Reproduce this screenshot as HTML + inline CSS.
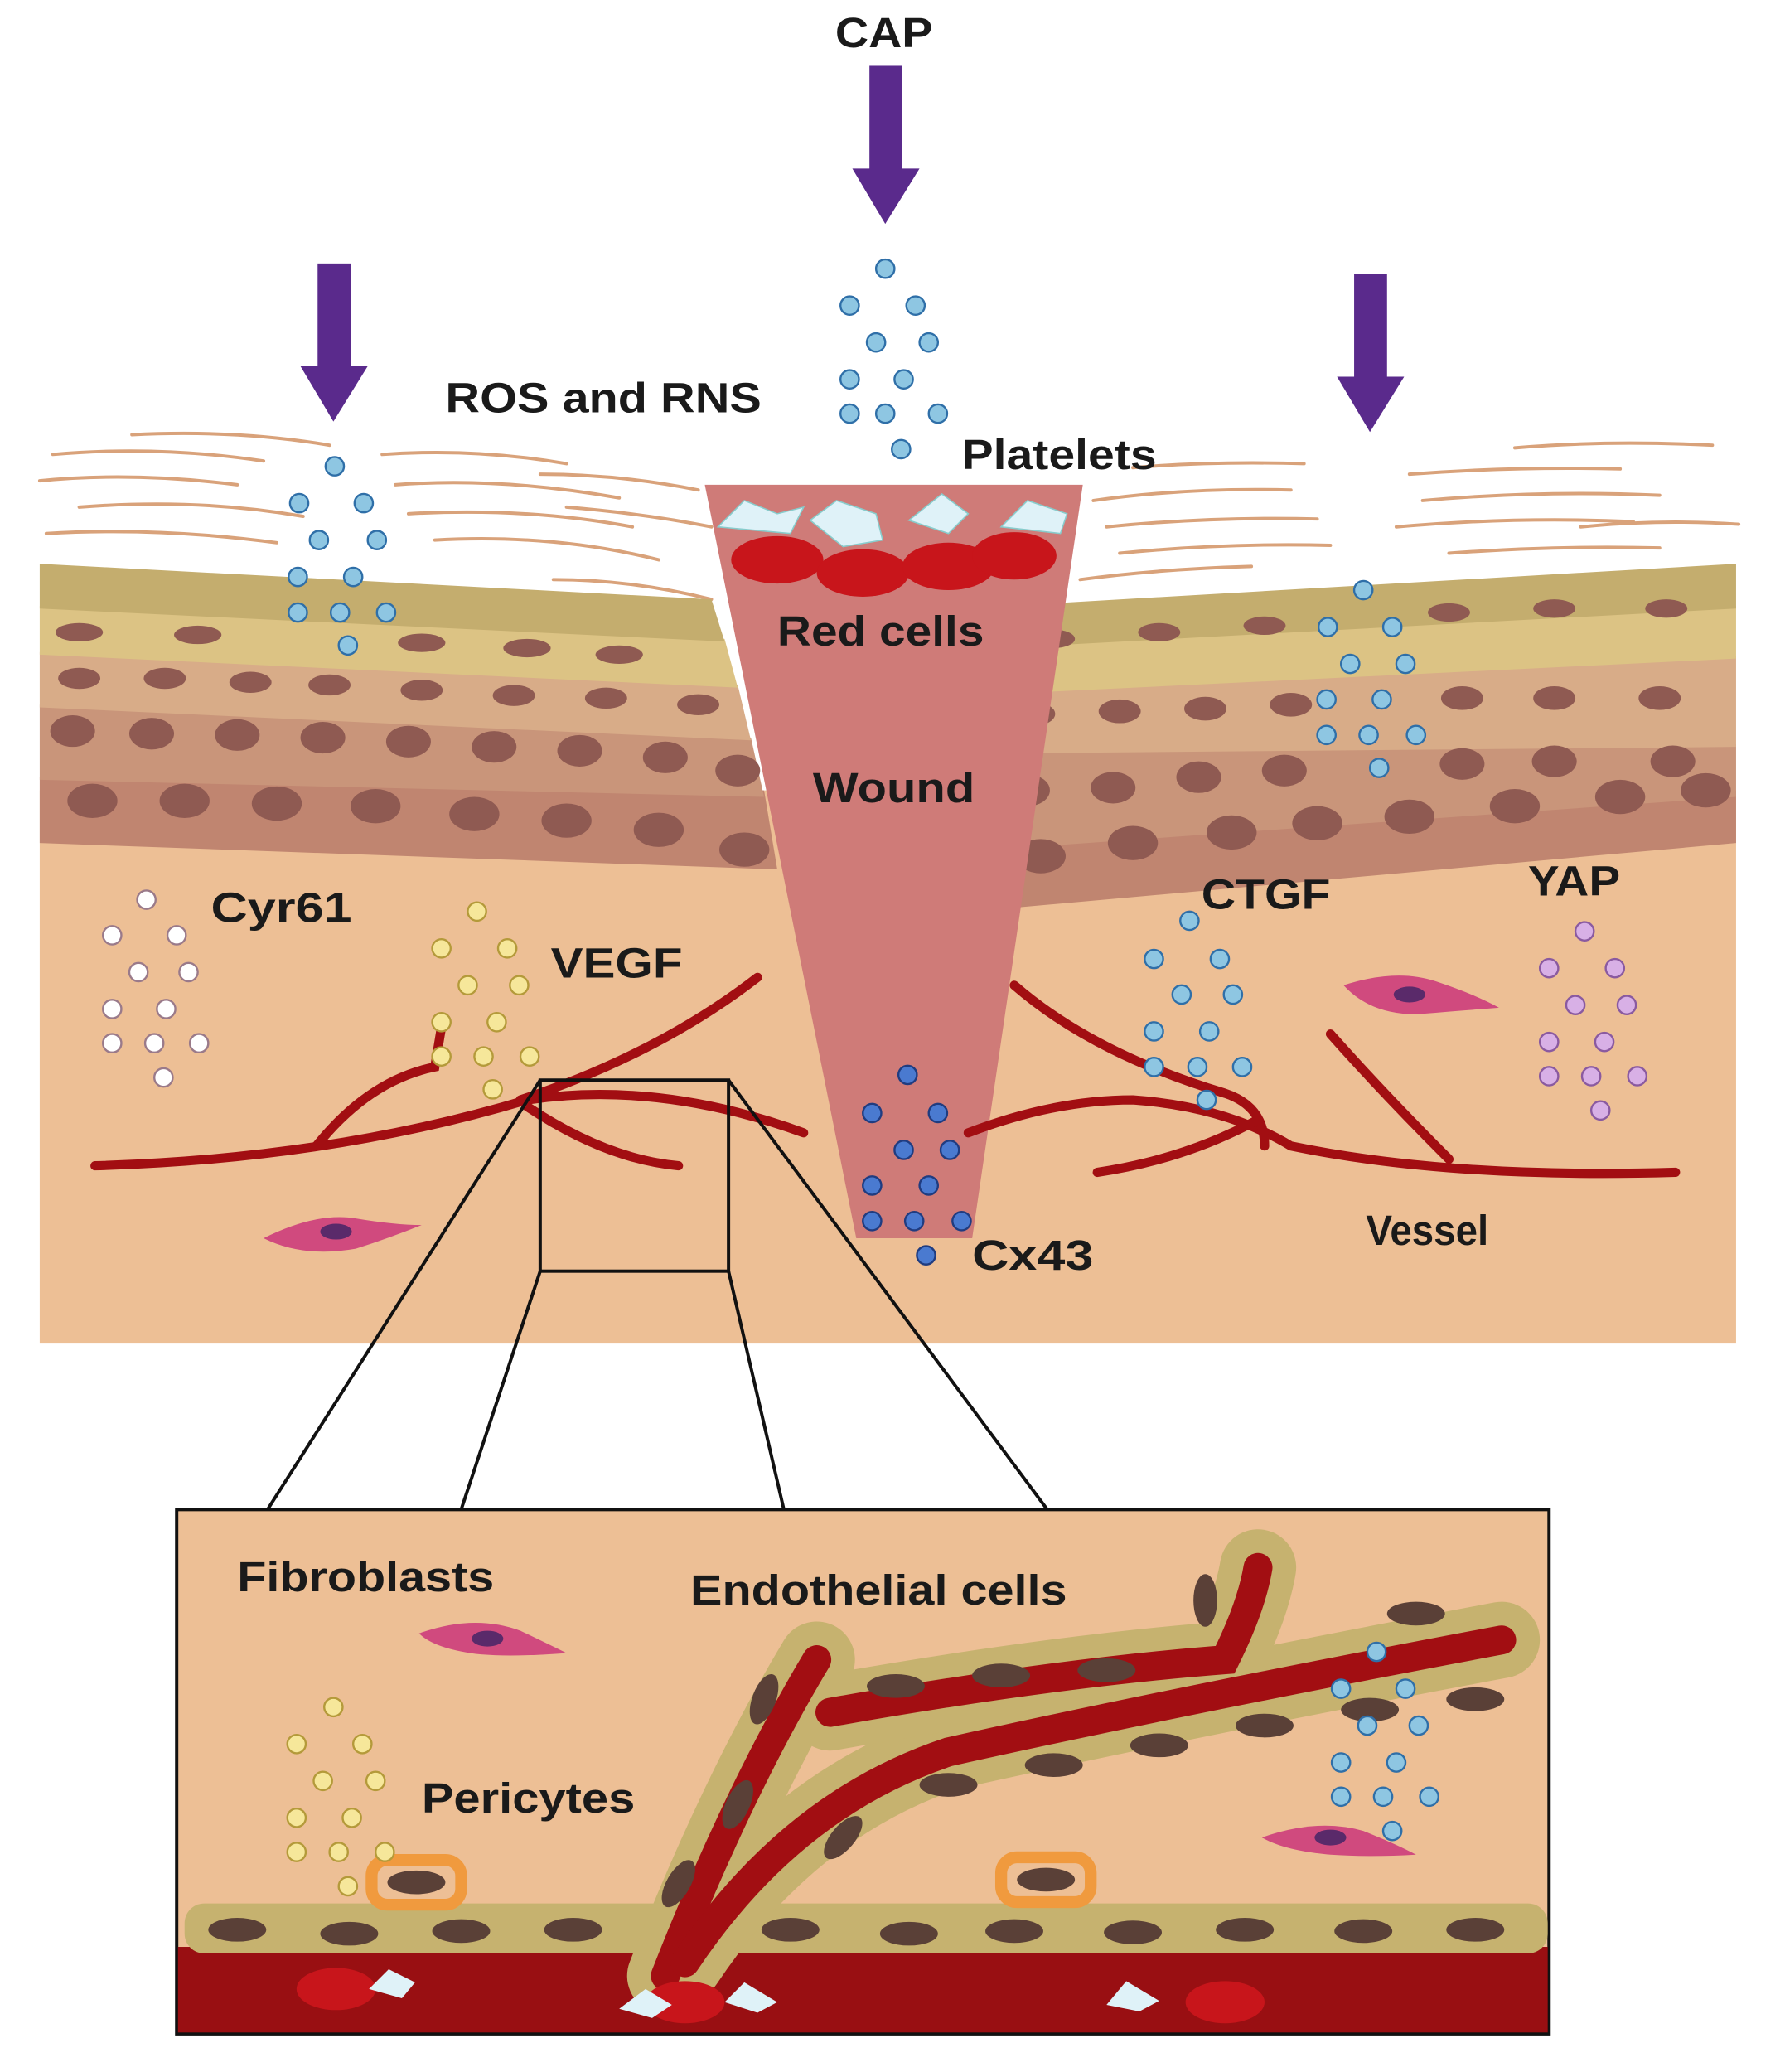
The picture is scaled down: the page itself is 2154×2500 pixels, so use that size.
<!DOCTYPE html>
<html><head><meta charset="utf-8"><style>
html,body{margin:0;padding:0;background:#fff}
svg{display:block}
text{font-family:"Liberation Sans",sans-serif;font-weight:bold;fill:#1a1a1a}
</style></head><body>
<svg width="2154" height="2500" viewBox="0 0 1355 1573" xmlns="http://www.w3.org/2000/svg">
<rect width="1355" height="1573" fill="#fff"/>
<!-- fibers -->
<g stroke="#d9a27a" stroke-width="2.5" stroke-linecap="round" fill="none">
<path d="M40 345 Q120 338 200 350"/><path d="M30 365 Q100 358 180 368"/><path d="M60 385 Q150 378 230 392"/><path d="M35 405 Q120 400 210 412"/><path d="M100 330 Q180 326 250 338"/><path d="M290 345 Q360 340 430 352"/><path d="M300 368 Q380 362 470 378"/><path d="M310 390 Q400 385 480 400"/><path d="M330 410 Q420 405 500 425"/><path d="M410 360 Q470 360 530 372"/><path d="M420 440 Q480 440 540 455"/><path d="M430 385 Q490 390 540 400"/>
<path d="M830 380 Q900 370 980 372"/><path d="M840 400 Q920 392 1000 394"/><path d="M850 420 Q930 412 1010 414"/><path d="M820 440 Q880 432 950 430"/><path d="M1070 360 Q1150 354 1230 356"/><path d="M1080 380 Q1170 372 1260 376"/><path d="M1060 400 Q1150 392 1240 396"/><path d="M1100 420 Q1180 414 1260 416"/><path d="M1150 340 Q1220 334 1300 338"/><path d="M860 355 Q920 350 990 352"/><path d="M1200 400 Q1260 394 1320 398"/>
</g>
<!-- dermis -->
<rect x="30" y="600" width="1288" height="420" fill="#edbf95"/>
<!-- left epidermis layers -->
<path d="M30 590 L580 600 L590 660 L30 640Z" fill="#c08570"/>
<path d="M30 535 L570 560 L580 605 L30 592Z" fill="#c9957a"/>
<path d="M30 495 L560 520 L570 562 L30 537Z" fill="#d8ac88"/>
<path d="M30 460 L550 485 L560 522 L30 497Z" fill="#dcc384"/>
<path d="M30 428 L540 455 L550 487 L30 462Z" fill="#c4ad6e"/>
<!-- right epidermis -->
<path d="M755 640 L1318 600 L1318 640 L760 690Z" fill="#c08570"/>
<path d="M755 570 L1318 565 L1318 605 L755 645Z" fill="#c9957a"/>
<path d="M758 525 L1318 498 L1318 567 L755 572Z" fill="#d8ac88"/>
<path d="M760 490 L1318 460 L1318 500 L758 527Z" fill="#dcc384"/>
<path d="M765 460 L1318 428 L1318 462 L760 492Z" fill="#c4ad6e"/>
<!-- nuclei -->
<g fill="#8f5a52">
<ellipse cx="60" cy="480" rx="18" ry="7"/><ellipse cx="150" cy="482" rx="18" ry="7"/><ellipse cx="320" cy="488" rx="18" ry="7"/><ellipse cx="400" cy="492" rx="18" ry="7"/><ellipse cx="470" cy="497" rx="18" ry="7"/>
<ellipse cx="60" cy="515" rx="16" ry="8"/><ellipse cx="125" cy="515" rx="16" ry="8"/><ellipse cx="190" cy="518" rx="16" ry="8"/><ellipse cx="250" cy="520" rx="16" ry="8"/><ellipse cx="320" cy="524" rx="16" ry="8"/><ellipse cx="390" cy="528" rx="16" ry="8"/><ellipse cx="460" cy="530" rx="16" ry="8"/><ellipse cx="530" cy="535" rx="16" ry="8"/>
<ellipse cx="55" cy="555" rx="17" ry="12"/><ellipse cx="115" cy="557" rx="17" ry="12"/><ellipse cx="180" cy="558" rx="17" ry="12"/><ellipse cx="245" cy="560" rx="17" ry="12"/><ellipse cx="310" cy="563" rx="17" ry="12"/><ellipse cx="375" cy="567" rx="17" ry="12"/><ellipse cx="440" cy="570" rx="17" ry="12"/><ellipse cx="505" cy="575" rx="17" ry="12"/><ellipse cx="560" cy="585" rx="17" ry="12"/>
<ellipse cx="70" cy="608" rx="19" ry="13"/><ellipse cx="140" cy="608" rx="19" ry="13"/><ellipse cx="210" cy="610" rx="19" ry="13"/><ellipse cx="285" cy="612" rx="19" ry="13"/><ellipse cx="360" cy="618" rx="19" ry="13"/><ellipse cx="430" cy="623" rx="19" ry="13"/><ellipse cx="500" cy="630" rx="19" ry="13"/><ellipse cx="565" cy="645" rx="19" ry="13"/>
<ellipse cx="800" cy="485" rx="16" ry="7"/><ellipse cx="880" cy="480" rx="16" ry="7"/><ellipse cx="960" cy="475" rx="16" ry="7"/><ellipse cx="1100" cy="465" rx="16" ry="7"/><ellipse cx="1180" cy="462" rx="16" ry="7"/><ellipse cx="1265" cy="462" rx="16" ry="7"/>
<ellipse cx="785" cy="542" rx="16" ry="9"/><ellipse cx="850" cy="540" rx="16" ry="9"/><ellipse cx="915" cy="538" rx="16" ry="9"/><ellipse cx="980" cy="535" rx="16" ry="9"/><ellipse cx="1110" cy="530" rx="16" ry="9"/><ellipse cx="1180" cy="530" rx="16" ry="9"/><ellipse cx="1260" cy="530" rx="16" ry="9"/>
<ellipse cx="780" cy="600" rx="17" ry="12"/><ellipse cx="845" cy="598" rx="17" ry="12"/><ellipse cx="910" cy="590" rx="17" ry="12"/><ellipse cx="975" cy="585" rx="17" ry="12"/><ellipse cx="1110" cy="580" rx="17" ry="12"/><ellipse cx="1180" cy="578" rx="17" ry="12"/><ellipse cx="1270" cy="578" rx="17" ry="12"/>
<ellipse cx="790" cy="650" rx="19" ry="13"/><ellipse cx="860" cy="640" rx="19" ry="13"/><ellipse cx="935" cy="632" rx="19" ry="13"/><ellipse cx="1000" cy="625" rx="19" ry="13"/><ellipse cx="1070" cy="620" rx="19" ry="13"/><ellipse cx="1150" cy="612" rx="19" ry="13"/><ellipse cx="1230" cy="605" rx="19" ry="13"/><ellipse cx="1295" cy="600" rx="19" ry="13"/>
</g>
<!-- wound -->
<path d="M535 368 L822 368 L738 940 L650 940Z" fill="#cf7b78"/>
<g fill="#c8151b"><ellipse cx="590" cy="425" rx="35" ry="18"/><ellipse cx="655" cy="435" rx="35" ry="18"/><ellipse cx="720" cy="430" rx="35" ry="18"/><ellipse cx="770" cy="422" rx="32" ry="18"/></g>
<g fill="#dff2f8" stroke="#8cc"><path d="M545 400 l20 -20 l25 10 l20 -5 l-10 20 z"/><path d="M615 395 l20 -15 l30 10 l5 20 l-30 5z"/><path d="M690 395 l25 -20 l20 15 l-15 15z"/><path d="M760 400 l20 -20 l30 10 l-5 15z"/></g>
<!-- vessels -->
<g stroke="#a20e12" stroke-width="7" fill="none" stroke-linecap="round">
<path d="M72 885 Q250 880 400 835 Q500 820 610 860"/>
<path d="M400 840 Q460 880 515 885"/>
<path d="M240 870 Q280 820 330 810 L335 780"/>
<path d="M395 835 Q500 800 575 742"/>
<path d="M735 860 Q800 835 860 835 Q930 840 980 870 Q1100 895 1272 890"/>
<path d="M770 748 Q830 800 930 830 Q960 840 960 870"/>
<path d="M833 890 Q900 880 955 850"/>
<path d="M1010 785 Q1050 830 1100 880"/>
</g>
<!-- fibroblast -->
<g><path d="M200 940 Q240 920 270 925 Q300 930 320 930 Q295 940 270 948 Q230 955 200 940Z" fill="#d04a7e"/><ellipse cx="255" cy="935" rx="12" ry="6" fill="#5a2a6a"/>
<path d="M1020 748 Q1060 735 1090 745 Q1120 755 1138 765 Q1100 768 1075 770 Q1040 770 1020 748Z" fill="#d04a7e"/><ellipse cx="1070" cy="755" rx="12" ry="6" fill="#5a2a6a"/></g>
<!-- zoom box and lines -->
<g stroke="#111" stroke-width="2.5" fill="none">
<rect x="410" y="820" width="143" height="145"/>
<line x1="410" y1="820" x2="203" y2="1146"/><line x1="410" y1="965" x2="350" y2="1146"/><line x1="553" y1="965" x2="595" y2="1146"/><line x1="553" y1="820" x2="795" y2="1146"/>
</g>
<!-- inset -->
<rect x="134" y="1146" width="1042" height="398" fill="#edbf95" stroke="#111" stroke-width="2.5"/>
<rect x="135" y="1478" width="1040" height="65" fill="#990f12"/>
<g fill="#c6b26f"><rect x="140" y="1445" width="1035" height="38" rx="15"/></g>
<g fill="#5a4037"><ellipse cx="180" cy="1465" rx="22" ry="9"/><ellipse cx="265" cy="1468" rx="22" ry="9"/><ellipse cx="350" cy="1466" rx="22" ry="9"/><ellipse cx="435" cy="1465" rx="22" ry="9"/><ellipse cx="600" cy="1465" rx="22" ry="9"/><ellipse cx="690" cy="1468" rx="22" ry="9"/><ellipse cx="770" cy="1466" rx="22" ry="9"/><ellipse cx="860" cy="1467" rx="22" ry="9"/><ellipse cx="945" cy="1465" rx="22" ry="9"/><ellipse cx="1035" cy="1466" rx="22" ry="9"/><ellipse cx="1120" cy="1465" rx="22" ry="9"/></g>
<!-- inset vessels -->
<g stroke="#c6b26f" stroke-width="58" fill="none" stroke-linecap="round"><path d="M505 1500 Q560 1360 620 1260"/><path d="M520 1490 Q600 1370 720 1330 Q900 1290 1140 1245"/><path d="M630 1300 Q800 1270 930 1260 Q950 1220 955 1190"/></g>
<g stroke="#a20e12" stroke-width="22" fill="none" stroke-linecap="round"><path d="M505 1500 Q560 1360 620 1260"/><path d="M520 1490 Q600 1370 720 1330 Q900 1290 1140 1245"/><path d="M630 1300 Q800 1270 930 1260 Q950 1220 955 1190"/></g>
<g fill="#5a4037"><ellipse cx="580" cy="1290" rx="9" ry="20" transform="rotate(20 580 1290)"/><ellipse cx="560" cy="1370" rx="9" ry="20" transform="rotate(25 560 1370)"/><ellipse cx="515" cy="1430" rx="9" ry="20" transform="rotate(30 515 1430)"/><ellipse cx="680" cy="1280" rx="22" ry="9"/><ellipse cx="760" cy="1272" rx="22" ry="9"/><ellipse cx="840" cy="1268" rx="22" ry="9"/><ellipse cx="720" cy="1355" rx="22" ry="9"/><ellipse cx="800" cy="1340" rx="22" ry="9"/><ellipse cx="880" cy="1325" rx="22" ry="9"/><ellipse cx="960" cy="1310" rx="22" ry="9"/><ellipse cx="1040" cy="1298" rx="22" ry="9"/><ellipse cx="1120" cy="1290" rx="22" ry="9"/><ellipse cx="915" cy="1215" rx="9" ry="20"/><ellipse cx="1075" cy="1225" rx="22" ry="9"/><ellipse cx="640" cy="1395" rx="9" ry="20" transform="rotate(40 640 1395)"/></g>
<g fill="none" stroke="#f09a3e" stroke-width="9"><rect x="282" y="1412" width="68" height="34" rx="12"/><rect x="760" y="1410" width="68" height="34" rx="12"/></g>
<g fill="#5a4037"><ellipse cx="316" cy="1429" rx="22" ry="9"/><ellipse cx="794" cy="1427" rx="22" ry="9"/></g>
<g fill="#c8151b"><ellipse cx="255" cy="1510" rx="30" ry="16"/><ellipse cx="520" cy="1520" rx="30" ry="16"/><ellipse cx="930" cy="1520" rx="30" ry="16"/></g>
<g fill="#dff2f8"><path d="M280 1510 l15 -15 l20 10 l-10 12z"/><path d="M470 1525 l20 -15 l20 12 l-15 10z"/><path d="M550 1520 l15 -15 l25 15 l-15 8z"/><path d="M840 1522 l15 -18 l25 15 l-15 8z"/></g>
<path d="M318 1240 Q360 1225 395 1238 Q420 1250 430 1255 Q390 1258 365 1256 Q330 1252 318 1240Z" fill="#d04a7e"/><ellipse cx="370" cy="1244" rx="12" ry="6" fill="#5a2a6a"/>
<path d="M958 1395 Q1000 1380 1035 1390 Q1060 1400 1075 1408 Q1040 1410 1010 1408 Q975 1405 958 1395Z" fill="#d04a7e"/><ellipse cx="1010" cy="1395" rx="12" ry="6" fill="#5a2a6a"/>
<!-- arrows -->
<g fill="#5a2a8c">
<rect x="241" y="200" width="25" height="80"/><path d="M228 278 L279 278 L253 320Z"/>
<rect x="660" y="50" width="25" height="80"/><path d="M647 128 L698 128 L672 170Z"/>
<rect x="1028" y="208" width="25" height="80"/><path d="M1015 286 L1066 286 L1040 328Z"/>
</g>
<!-- dots -->
<g fill="#8ec6e2" stroke="#2f6fa8" stroke-width="1.5">
<circle cx="254" cy="354" r="7"/><circle cx="227" cy="382" r="7"/><circle cx="276" cy="382" r="7"/><circle cx="242" cy="410" r="7"/><circle cx="286" cy="410" r="7"/><circle cx="226" cy="438" r="7"/><circle cx="268" cy="438" r="7"/><circle cx="226" cy="465" r="7"/><circle cx="258" cy="465" r="7"/><circle cx="293" cy="465" r="7"/><circle cx="264" cy="490" r="7"/>
<circle cx="672" cy="204" r="7"/><circle cx="645" cy="232" r="7"/><circle cx="695" cy="232" r="7"/><circle cx="665" cy="260" r="7"/><circle cx="705" cy="260" r="7"/><circle cx="645" cy="288" r="7"/><circle cx="686" cy="288" r="7"/><circle cx="645" cy="314" r="7"/><circle cx="672" cy="314" r="7"/><circle cx="712" cy="314" r="7"/><circle cx="684" cy="341" r="7"/>
<circle cx="1035" cy="448" r="7"/><circle cx="1008" cy="476" r="7"/><circle cx="1057" cy="476" r="7"/><circle cx="1025" cy="504" r="7"/><circle cx="1067" cy="504" r="7"/><circle cx="1007" cy="531" r="7"/><circle cx="1049" cy="531" r="7"/><circle cx="1007" cy="558" r="7"/><circle cx="1039" cy="558" r="7"/><circle cx="1075" cy="558" r="7"/><circle cx="1047" cy="583" r="7"/>
<circle cx="903" cy="699" r="7"/><circle cx="876" cy="728" r="7"/><circle cx="926" cy="728" r="7"/><circle cx="897" cy="755" r="7"/><circle cx="936" cy="755" r="7"/><circle cx="876" cy="783" r="7"/><circle cx="918" cy="783" r="7"/><circle cx="876" cy="810" r="7"/><circle cx="909" cy="810" r="7"/><circle cx="943" cy="810" r="7"/><circle cx="916" cy="835" r="7"/>
<circle cx="1045" cy="1254" r="7"/><circle cx="1018" cy="1282" r="7"/><circle cx="1067" cy="1282" r="7"/><circle cx="1038" cy="1310" r="7"/><circle cx="1077" cy="1310" r="7"/><circle cx="1018" cy="1338" r="7"/><circle cx="1060" cy="1338" r="7"/><circle cx="1018" cy="1364" r="7"/><circle cx="1050" cy="1364" r="7"/><circle cx="1085" cy="1364" r="7"/><circle cx="1057" cy="1390" r="7"/>
</g>
<g fill="#fff" stroke="#9a7a8a" stroke-width="1.5">
<circle cx="111" cy="683" r="7"/><circle cx="85" cy="710" r="7"/><circle cx="134" cy="710" r="7"/><circle cx="105" cy="738" r="7"/><circle cx="143" cy="738" r="7"/><circle cx="85" cy="766" r="7"/><circle cx="126" cy="766" r="7"/><circle cx="85" cy="792" r="7"/><circle cx="117" cy="792" r="7"/><circle cx="151" cy="792" r="7"/><circle cx="124" cy="818" r="7"/>
</g>
<g fill="#f6e79a" stroke="#b49a3a" stroke-width="1.5">
<circle cx="362" cy="692" r="7"/><circle cx="335" cy="720" r="7"/><circle cx="385" cy="720" r="7"/><circle cx="355" cy="748" r="7"/><circle cx="394" cy="748" r="7"/><circle cx="335" cy="776" r="7"/><circle cx="377" cy="776" r="7"/><circle cx="335" cy="802" r="7"/><circle cx="367" cy="802" r="7"/><circle cx="402" cy="802" r="7"/><circle cx="374" cy="827" r="7"/>
<circle cx="253" cy="1296" r="7"/><circle cx="225" cy="1324" r="7"/><circle cx="275" cy="1324" r="7"/><circle cx="245" cy="1352" r="7"/><circle cx="285" cy="1352" r="7"/><circle cx="225" cy="1380" r="7"/><circle cx="267" cy="1380" r="7"/><circle cx="225" cy="1406" r="7"/><circle cx="257" cy="1406" r="7"/><circle cx="292" cy="1406" r="7"/><circle cx="264" cy="1432" r="7"/>
</g>
<g fill="#d8b0e6" stroke="#8a5aa0" stroke-width="1.5">
<circle cx="1203" cy="707" r="7"/><circle cx="1176" cy="735" r="7"/><circle cx="1226" cy="735" r="7"/><circle cx="1196" cy="763" r="7"/><circle cx="1235" cy="763" r="7"/><circle cx="1176" cy="791" r="7"/><circle cx="1218" cy="791" r="7"/><circle cx="1176" cy="817" r="7"/><circle cx="1208" cy="817" r="7"/><circle cx="1243" cy="817" r="7"/><circle cx="1215" cy="843" r="7"/>
</g>
<g fill="#4a7ad0" stroke="#203c80" stroke-width="1.5">
<circle cx="689" cy="816" r="7"/><circle cx="662" cy="845" r="7"/><circle cx="712" cy="845" r="7"/><circle cx="686" cy="873" r="7"/><circle cx="721" cy="873" r="7"/><circle cx="662" cy="900" r="7"/><circle cx="705" cy="900" r="7"/><circle cx="662" cy="927" r="7"/><circle cx="694" cy="927" r="7"/><circle cx="730" cy="927" r="7"/><circle cx="703" cy="953" r="7"/>
</g>
<!-- text -->
<g font-size="32">
<text x="634" y="36" textLength="74" lengthAdjust="spacingAndGlyphs">CAP</text>
<text x="338" y="313" textLength="240" lengthAdjust="spacingAndGlyphs">ROS and RNS</text>
<text x="730" y="356" textLength="148" lengthAdjust="spacingAndGlyphs">Platelets</text>
<text x="590" y="490" textLength="157" lengthAdjust="spacingAndGlyphs">Red cells</text>
<text x="617" y="609" textLength="123" lengthAdjust="spacingAndGlyphs">Wound</text>
<text x="160" y="700" textLength="107" lengthAdjust="spacingAndGlyphs">Cyr61</text>
<text x="418" y="742" textLength="100" lengthAdjust="spacingAndGlyphs">VEGF</text>
<text x="912" y="690" textLength="98" lengthAdjust="spacingAndGlyphs">CTGF</text>
<text x="1160" y="680" textLength="70" lengthAdjust="spacingAndGlyphs">YAP</text>
<text x="738" y="964" textLength="92" lengthAdjust="spacingAndGlyphs">Cx43</text>
<text x="1037" y="945" textLength="93" lengthAdjust="spacingAndGlyphs">Vessel</text>
<text x="180" y="1208" textLength="195" lengthAdjust="spacingAndGlyphs">Fibroblasts</text>
<text x="524" y="1218" textLength="286" lengthAdjust="spacingAndGlyphs">Endothelial cells</text>
<text x="320" y="1376" textLength="162" lengthAdjust="spacingAndGlyphs">Pericytes</text>
</g>
</svg>
</body></html>
